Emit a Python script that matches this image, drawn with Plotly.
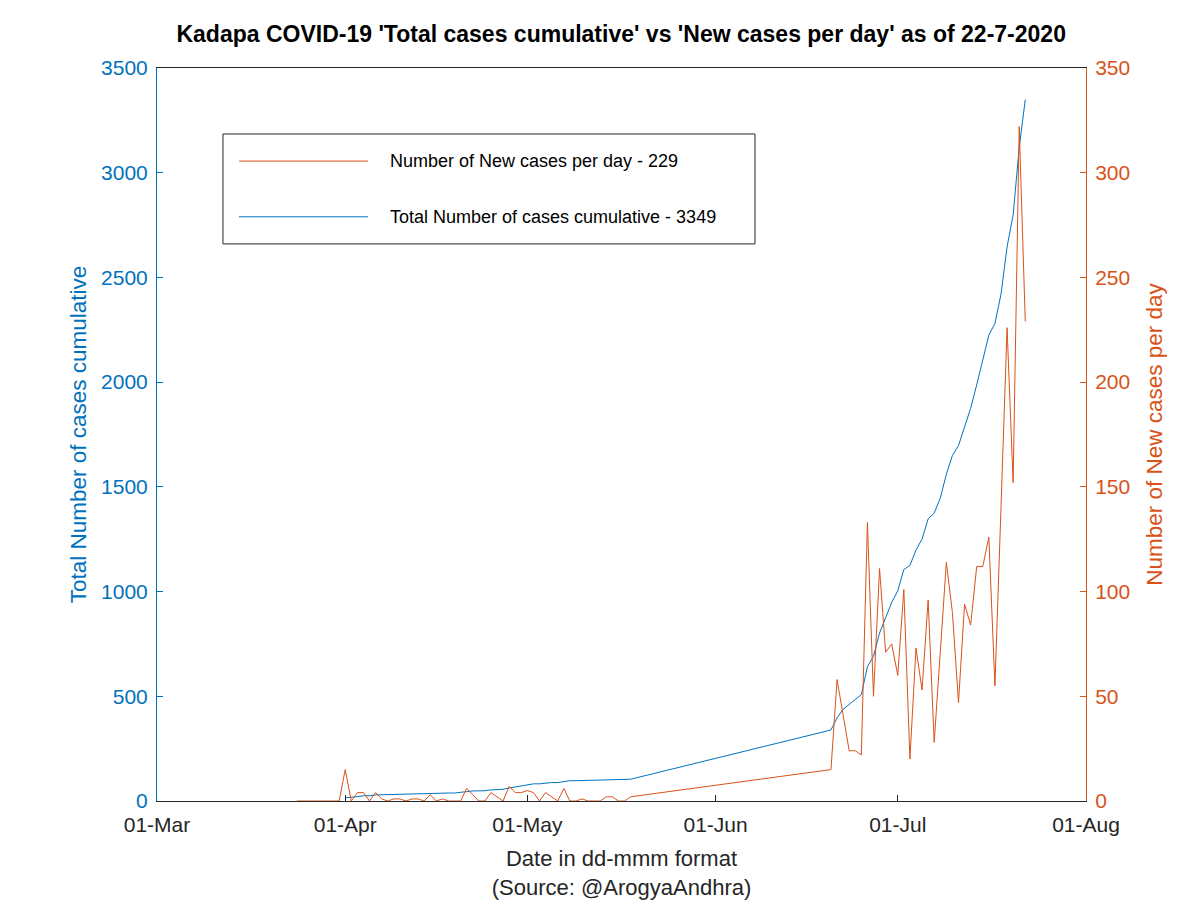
import plotly.graph_objects as go
import pandas as pd

# ---------------- data ----------------
pre_dates = pd.date_range("2020-03-24", "2020-03-31").strftime("%Y-%m-%d").tolist()
apr_dates = pd.date_range("2020-04-01", "2020-04-30").strftime("%Y-%m-%d").tolist()
may_dates = pd.date_range("2020-05-01", "2020-05-18").strftime("%Y-%m-%d").tolist()
late_dates = pd.date_range("2020-06-20", "2020-07-22").strftime("%Y-%m-%d").tolist()

new_pre = [0, 0, 0, 0, 0, 0, 0, 0]
new_apr = [15, 0, 4, 4, 0, 4, 1, 0, 1, 1, 0, 1, 1, 0, 3, 0, 1, 0, 0, 0,
           6, 3, 0, 0, 4, 2, 0, 7, 4, 4]
new_may = [5, 4, 0, 4, 2, 0, 6, 0, 0, 1, 0, 0, 0, 2, 2, 0, 0, 2]
new_late = [15, 58, 41, 24, 24, 22, 133, 50, 111, 71, 75,
            60, 101, 20, 73, 53, 96, 28, 71, 114, 90, 47, 94, 84, 112, 112,
            126, 55, 140, 226, 152, 322, 229]

tot_pre = [None] * 8
tot_apr = [15, 17, 21, 25, 25, 29, 30, 30, 31, 32, 32, 33, 34, 34, 37, 37, 38, 38,
           38, 40, 45, 48, 48, 49, 53, 55, 56, 62, 67, 72]
tot_may = [78, 82, 82, 86, 88, 88, 94, 97, 97, 98, 98, 98, 98, 100, 102, 102, 102, 104]
tot_late = [339, 397, 438, 462, 486, 508, 641, 691, 802, 873, 948,
            1004, 1105, 1125, 1198, 1251, 1347, 1375, 1446, 1560, 1650, 1697, 1791,
            1875, 1987, 2099, 2225, 2280, 2420, 2646, 2798, 3120, 3349]

dates = pre_dates + apr_dates + may_dates + late_dates
new_cases = new_pre + new_apr + new_may + new_late
total_cases = tot_pre + tot_apr + tot_may + tot_late

month_ticks = ["2020-03-01", "2020-04-01", "2020-05-01", "2020-06-01", "2020-07-01", "2020-08-01"]
month_labels = ["01-Mar", "01-Apr", "01-May", "01-Jun", "01-Jul", "01-Aug"]

title_text = "Kadapa COVID-19 'Total cases cumulative' vs 'New cases per day' as of 22-7-2020"
legend_new = "Number of New cases per day - 229"
legend_tot = "Total Number of cases cumulative - 3349"

BLUE = "#0072BD"
ORANGE = "#D95319"
DARK = "#262626"
FONT = "Liberation Sans, Arial, sans-serif"

fig = go.Figure()
fig.add_trace(go.Scatter(x=dates, y=total_cases, mode="lines", name=legend_tot,
                         line=dict(color=BLUE, width=1), yaxis="y"))
fig.add_trace(go.Scatter(x=dates, y=new_cases, mode="lines", name=legend_new,
                         line=dict(color=ORANGE, width=1), yaxis="y2"))

fig.update_layout(
    width=1200, height=900,
    margin=dict(l=149, r=122, t=60, b=107, autoexpand=False),
    paper_bgcolor="white", plot_bgcolor="white",
    showlegend=False,
    font=dict(family=FONT, size=21, color=DARK),
    title=dict(text="<b>" + title_text + "</b>", x=0.511, xanchor="center",
               y=1 - 26 / 900, yanchor="middle",
               font=dict(family=FONT, size=23, color="#000000")),
    xaxis=dict(
        type="date", range=["2020-03-01", "2020-08-01"],
        tickvals=month_ticks, ticktext=month_labels,
        ticks="inside", ticklen=6, tickcolor=DARK,
        showline=True, linecolor=DARK, linewidth=1, mirror=True,
        showgrid=False, zeroline=False,
        tickfont=dict(size=21, color=DARK), ticklabelstandoff=5,
        title=dict(text="Date in dd-mmm format<br>(Source: @ArogyaAndhra)",
                   font=dict(size=22, color=DARK), standoff=15),
    ),
    yaxis=dict(
        range=[0, 3500], dtick=500, tick0=0,
        ticks="inside", ticklen=6, tickcolor=BLUE,
        showline=True, linecolor=BLUE, linewidth=1,
        showgrid=False, zeroline=False,
        tickfont=dict(size=21, color=BLUE), ticklabelstandoff=4,
        title=dict(text="Total Number of cases cumulative",
                   font=dict(size=22.5, color=BLUE), standoff=8),
    ),
    yaxis2=dict(
        range=[0, 350], dtick=50, tick0=0,
        overlaying="y", side="right",
        ticks="inside", ticklen=6, tickcolor=ORANGE,
        showline=True, linecolor=ORANGE, linewidth=1,
        showgrid=False, zeroline=False,
        tickfont=dict(size=21, color=ORANGE), ticklabelstandoff=4,
        title=dict(text="Number of New cases per day",
                   font=dict(size=22.5, color=ORANGE), standoff=17),
    ),
)

# manual legend box (MATLAB style with long line samples)
fig.add_shape(type="rect", xref="paper", yref="paper",
              x0=0.071, x1=0.6437, y0=0.76, y1=0.91,
              line=dict(color=DARK, width=1), fillcolor="white", layer="above")
fig.add_shape(type="line", xref="paper", yref="paper",
              x0=0.0883, x1=0.2271, y0=0.873, y1=0.873,
              line=dict(color=ORANGE, width=1), layer="above")
fig.add_shape(type="line", xref="paper", yref="paper",
              x0=0.0883, x1=0.2271, y0=0.797, y1=0.797,
              line=dict(color=BLUE, width=1), layer="above")
fig.add_annotation(xref="paper", yref="paper", x=0.2487, y=0.873,
                   text=legend_new, showarrow=False, xanchor="left", yanchor="middle",
                   font=dict(family=FONT, size=18, color="#000000"))
fig.add_annotation(xref="paper", yref="paper", x=0.2487, y=0.797,
                   text=legend_tot, showarrow=False, xanchor="left", yanchor="middle",
                   font=dict(family=FONT, size=18, color="#000000"))

fig.write_html("out.html")
